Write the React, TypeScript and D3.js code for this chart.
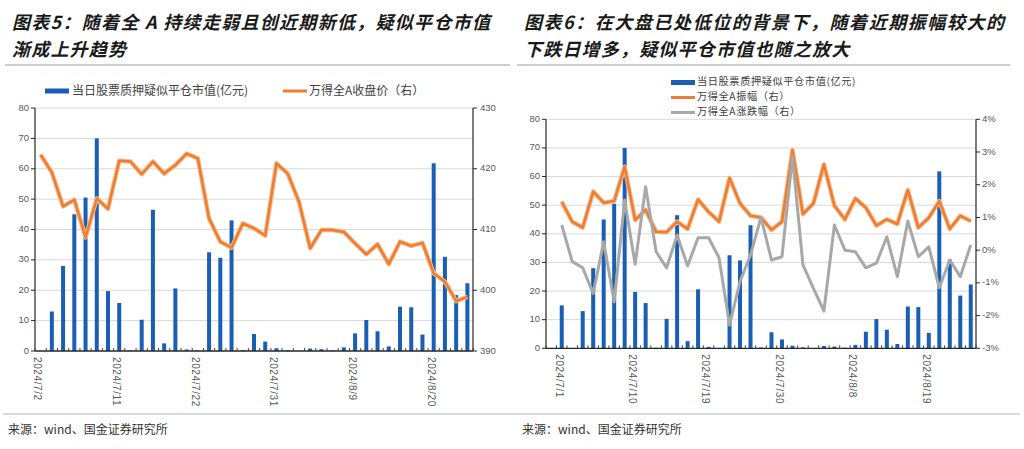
import React from "react";
import * as d3 from "d3";

// ---------- DATA ----------
const tradeDates = [
  "2024/7/1","2024/7/2","2024/7/3","2024/7/4","2024/7/5","2024/7/8","2024/7/9","2024/7/10","2024/7/11","2024/7/12",
  "2024/7/15","2024/7/16","2024/7/17","2024/7/18","2024/7/19","2024/7/22","2024/7/23","2024/7/24","2024/7/25","2024/7/26",
  "2024/7/29","2024/7/30","2024/7/31","2024/8/1","2024/8/2","2024/8/5","2024/8/6","2024/8/7","2024/8/8","2024/8/9",
  "2024/8/12","2024/8/13","2024/8/14","2024/8/15","2024/8/16","2024/8/19","2024/8/20","2024/8/21","2024/8/22","2024/8/23",
];
// 当日股票质押疑似平仓市值(亿元), 7/1 .. 8/23
const pledgeValues = [
  15, 0, 13, 28, 45, 50.5, 70, 19.7, 15.8, 0.2,
  10.3, 46.5, 2.5, 20.6, 0.5, 0.1, 32.5, 30.7, 43, 0.3,
  5.6, 3.1, 0.9, 0.3, 0, 0.8, 0.6, 0.2, 1.2, 5.8,
  10.2, 6.5, 1.5, 14.6, 14.4, 5.4, 61.8, 31, 18.4, 22.3,
];
// 万得全A收盘价, 7/2 .. 8/23
const closeValues = [
  422.3, 419.4, 413.8, 414.9, 408.7, 415.1, 413.4, 421.3, 421.2, 419.1,
  421.2, 419.2, 420.6, 422.5, 421.7, 411.8, 408, 407, 411, 410.2,
  409, 420.9, 419.2, 414.6, 406.9, 409.9, 409.9, 409.6, 407.7, 405.9,
  407.6, 404.3, 408, 407.3, 407.8, 402.8, 401.4, 398.2, 398.9,
];
// 万得全A振幅(%), 7/1 .. 8/23
const amplitudeValues = [
  1.48, 0.87, 0.69, 1.79, 1.45, 1.5, 2.55, 0.92, 1.23, 0.56,
  0.55, 0.87, 0.65, 1.55, 1.17, 0.87, 2.21, 1.43, 1.05, 1.0,
  0.62, 0.87, 3.06, 1.1, 1.43, 2.62, 1.36, 0.94, 1.58, 1.3,
  0.75, 0.94, 0.8, 1.84, 0.69, 0.99, 1.5, 0.65, 1.05, 0.89,
];
// 万得全A涨跌幅(%), 7/1 .. 8/23
const changeValues = [
  0.77, -0.35, -0.54, -1.32, 0.26, -1.58, 1.53, -0.43, 1.94, -0.05,
  -0.54, 0.46, -0.48, 0.38, 0.38, -0.23, -2.29, -0.96, -0.15, 1.0,
  -0.3, -0.2, 2.86, -0.45, -1.17, -1.86, 0.77, 0.0, -0.05, -0.54,
  -0.4, 0.41, -0.81, 0.89, -0.2, 0.1, -1.15, -0.3, -0.81, 0.16,
];
const leftTicks = [0, 10, 20, 30, 40, 50, 60, 70, 80];
const closeTicks = [390, 400, 410, 420, 430];
const pctTicks = [-3, -2, -1, 0, 1, 2, 3, 4];

const title5 = ["图表5：随着全 A 持续走弱且创近期新低，疑似平仓市值", "渐成上升趋势"];
const title6 = ["图表6：在大盘已处低位的背景下，随着近期振幅较大的", "下跌日增多，疑似平仓市值也随之放大"];
const legendBar = "当日股票质押疑似平仓市值(亿元)";
const legendClose = "万得全A收盘价（右）";
const legendAmp = "万得全A振幅（右）";
const legendChg = "万得全A涨跌幅（右）";
const sourceText = "来源：wind、国金证券研究所";

const BLUE = "#1a5fb4";
const ORANGE = "#ed7d31";
const GRAY = "#a8a8a8";
const GRID = "#d9d9d9";
const TICKC = "#595959";
const NUMFONT = "'Liberation Sans', Arial, sans-serif";
const CJK = "'Noto Sans CJK SC', sans-serif";

type AxisCfg = { x0: number; x1: number; yTop: number; yBot: number };

function XAxis({ x, cats, labels, cfg }: any) {
  const step = x.step();
  const bounds = d3.range(cats.length + 1).map((i) => cfg.x0 + i * step);
  return (
    <g>
      <line x1={cfg.x0} x2={cfg.x1} y1={cfg.yBot} y2={cfg.yBot} stroke="#262626" strokeWidth={1.3} />
      {bounds.map((b: number, i: number) => (
        <line key={i} x1={b} x2={b} y1={cfg.yBot - 3} y2={cfg.yBot} stroke="#404040" strokeWidth={1} />
      ))}
      {labels.map((d: string) => {
        const cx = (x(d) as number) + x.bandwidth() / 2;
        return (
          <text key={d} transform={`translate(${cx - 3.5},${cfg.yBot + 6}) rotate(90)`} fontSize={10}
            letterSpacing={0.6} fontFamily={NUMFONT} fill={TICKC} dominantBaseline="middle">{d}</text>
        );
      })}
    </g>
  );
}

function LeftChart() {
  const cfg: AxisCfg = { x0: 35, x1: 473, yTop: 108, yBot: 351 };
  const cats = tradeDates.slice(1);
  const bars = pledgeValues.slice(1);
  const x = d3.scaleBand<string>().domain(cats).range([cfg.x0, cfg.x1]).padding(0);
  const y = d3.scaleLinear().domain([0, 80]).range([cfg.yBot, cfg.yTop]);
  const y2 = d3.scaleLinear().domain([390, 430]).range([cfg.yBot, cfg.yTop]);
  const cx = (d: string) => (x(d) as number) + x.bandwidth() / 2;
  const bw = 4;
  const line = d3.line<number>().x((_, i) => cx(cats[i])).y((v) => y2(v));
  const labels = cats.filter((_, i) => i % 7 === 0);
  return (
    <g>
      {leftTicks.map((t) => (
        <g key={t}>
          {t > 0 && <line x1={cfg.x0} x2={cfg.x1} y1={y(t)} y2={y(t)} stroke={GRID} strokeWidth={1} />}
          <line x1={cfg.x0 - 4} x2={cfg.x0} y1={y(t)} y2={y(t)} stroke="#262626" />
          <text x={cfg.x0 - 6} y={y(t)} textAnchor="end" dominantBaseline="middle" fontSize={9.5} fontFamily={NUMFONT} fill={TICKC}>{t}</text>
        </g>
      ))}
      {closeTicks.map((t) => (
        <g key={t}>
          <line x1={cfg.x1} x2={cfg.x1 + 4} y1={y2(t)} y2={y2(t)} stroke="#262626" />
          <text x={cfg.x1 + 7} y={y2(t)} dominantBaseline="middle" fontSize={9.5} fontFamily={NUMFONT} fill={TICKC}>{t}</text>
        </g>
      ))}
      <line x1={cfg.x0} x2={cfg.x0} y1={cfg.yTop} y2={cfg.yBot} stroke="#262626" strokeWidth={1.2} />
      <line x1={cfg.x1} x2={cfg.x1} y1={cfg.yTop} y2={cfg.yBot} stroke="#262626" strokeWidth={1.2} />
      {bars.map((v, i) => (
        <rect key={i} x={cx(cats[i]) - bw / 2} y={y(v)} width={bw} height={cfg.yBot - y(v)} fill={BLUE} />
      ))}
      <path d={line(closeValues) as string} fill="none" stroke="#f5b98a" strokeWidth={4.5} strokeLinejoin="round" />
      <path d={line(closeValues) as string} fill="none" stroke={ORANGE} strokeWidth={2.5} strokeLinejoin="round" />
      <XAxis x={x} cats={cats} labels={labels} cfg={cfg} />
      {/* legend */}
      <rect x={45} y={88.5} width={24} height={5} fill={BLUE} />
      <text x={72} y={92} dominantBaseline="middle" fontSize={12} fontFamily={CJK} fill="#404040">{legendBar}</text>
      <line x1={283} x2={307} y1={91} y2={91} stroke={ORANGE} strokeWidth={3} />
      <text x={309} y={92} dominantBaseline="middle" fontSize={12} fontFamily={CJK} fill="#404040">{legendClose}</text>
    </g>
  );
}

function RightChart() {
  const cfg: AxisCfg = { x0: 546, x1: 976, yTop: 119.3, yBot: 348.3 };
  const cats = ["2024/6/28", ...tradeDates];
  const x = d3.scaleBand<string>().domain(cats).range([cfg.x0, cfg.x1]).padding(0);
  const y = d3.scaleLinear().domain([0, 80]).range([cfg.yBot, cfg.yTop]);
  const y2 = d3.scaleLinear().domain([-3, 4]).range([cfg.yBot, cfg.yTop]);
  const cx = (d: string) => (x(d) as number) + x.bandwidth() / 2;
  const bw = 4;
  const line = d3.line<number>().x((_, i) => cx(tradeDates[i])).y((v) => y2(v));
  const labels = tradeDates.filter((_, i) => i % 7 === 0);
  const legendFont = 10.2;
  return (
    <g>
      {leftTicks.map((t) => (
        <g key={t}>
          {t > 0 && <line x1={cfg.x0} x2={cfg.x1} y1={y(t)} y2={y(t)} stroke={GRID} strokeWidth={1} />}
          <line x1={cfg.x0 - 4} x2={cfg.x0} y1={y(t)} y2={y(t)} stroke="#262626" />
          <text x={cfg.x0 - 6} y={y(t)} textAnchor="end" dominantBaseline="middle" fontSize={9.5} fontFamily={NUMFONT} fill={TICKC}>{t}</text>
        </g>
      ))}
      {pctTicks.map((t) => (
        <g key={t}>
          <line x1={cfg.x1} x2={cfg.x1 + 4} y1={y2(t)} y2={y2(t)} stroke="#262626" />
          <text x={cfg.x1 + 6} y={y2(t)} dominantBaseline="middle" fontSize={9.5} fontFamily={NUMFONT} fill={TICKC}>{`${t}%`}</text>
        </g>
      ))}
      <line x1={cfg.x0} x2={cfg.x0} y1={cfg.yTop} y2={cfg.yBot} stroke="#262626" strokeWidth={1.2} />
      <line x1={cfg.x1} x2={cfg.x1} y1={cfg.yTop} y2={cfg.yBot} stroke="#262626" strokeWidth={1.2} />
      {pledgeValues.map((v, i) => (
        <rect key={i} x={cx(tradeDates[i]) - bw / 2} y={y(v)} width={bw} height={cfg.yBot - y(v)} fill={BLUE} />
      ))}
      <path d={line(amplitudeValues) as string} fill="none" stroke="#f5b98a" strokeWidth={4.5} strokeLinejoin="round" />
      <path d={line(amplitudeValues) as string} fill="none" stroke={ORANGE} strokeWidth={2.5} strokeLinejoin="round" />
      <path d={line(changeValues) as string} fill="none" stroke={GRAY} strokeWidth={3} strokeLinejoin="round" />
      <XAxis x={x} cats={cats} labels={labels} cfg={cfg} />
      {/* legend */}
      <rect x={671} y={80} width={24} height={5} fill={BLUE} />
      <text x={697} y={82.5} dominantBaseline="middle" fontSize={legendFont} letterSpacing={0.6} fontFamily={CJK} fill="#404040">{legendBar}</text>
      <line x1={671} x2={695} y1={97.5} y2={97.5} stroke={ORANGE} strokeWidth={3} />
      <text x={697} y={97.5} dominantBaseline="middle" fontSize={legendFont} letterSpacing={0.6} fontFamily={CJK} fill="#404040">{legendAmp}</text>
      <line x1={671} x2={695} y1={112.5} y2={112.5} stroke={GRAY} strokeWidth={3} />
      <text x={697} y={112.5} dominantBaseline="middle" fontSize={legendFont} letterSpacing={0.6} fontFamily={CJK} fill="#404040">{legendChg}</text>
    </g>
  );
}

function Title({ x, lines, w1 }: { x: number; lines: string[]; w1: number }) {
  return (
    <g fontFamily={CJK} fontWeight="bold" fontStyle="italic" fontSize={18} fill="#1a1a1a">
      <text x={x} y={29} textLength={w1} lengthAdjust="spacing">{lines[0]}</text>
      <text x={x} y={56} letterSpacing={1.2}>{lines[1]}</text>
    </g>
  );
}

export default function App() {
  return (
    <svg width={1024} height={449} style={{ position: "absolute", left: 0, top: 0, background: "#fff" }}>
      <rect width={1024} height={449} fill="#fff" />
      <Title x={12} lines={title5} w1={478} />
      <Title x={524} lines={title6} w1={480} />
      <line x1={5} x2={510} y1={65} y2={65} stroke="#c8cfd1" strokeWidth={2} />
      <line x1={517} x2={1010} y1={65} y2={65} stroke="#c8cfd1" strokeWidth={2} />
      <LeftChart />
      <RightChart />
      <line x1={3} x2={1020} y1={414} y2={414} stroke="#c8cfd1" strokeWidth={1.5} />
      <text x={8} y={434} fontSize={12} fontFamily={CJK} fill="#333">{sourceText}</text>
      <text x={522} y={434} fontSize={12} fontFamily={CJK} fill="#333">{sourceText}</text>
    </svg>
  );
}
